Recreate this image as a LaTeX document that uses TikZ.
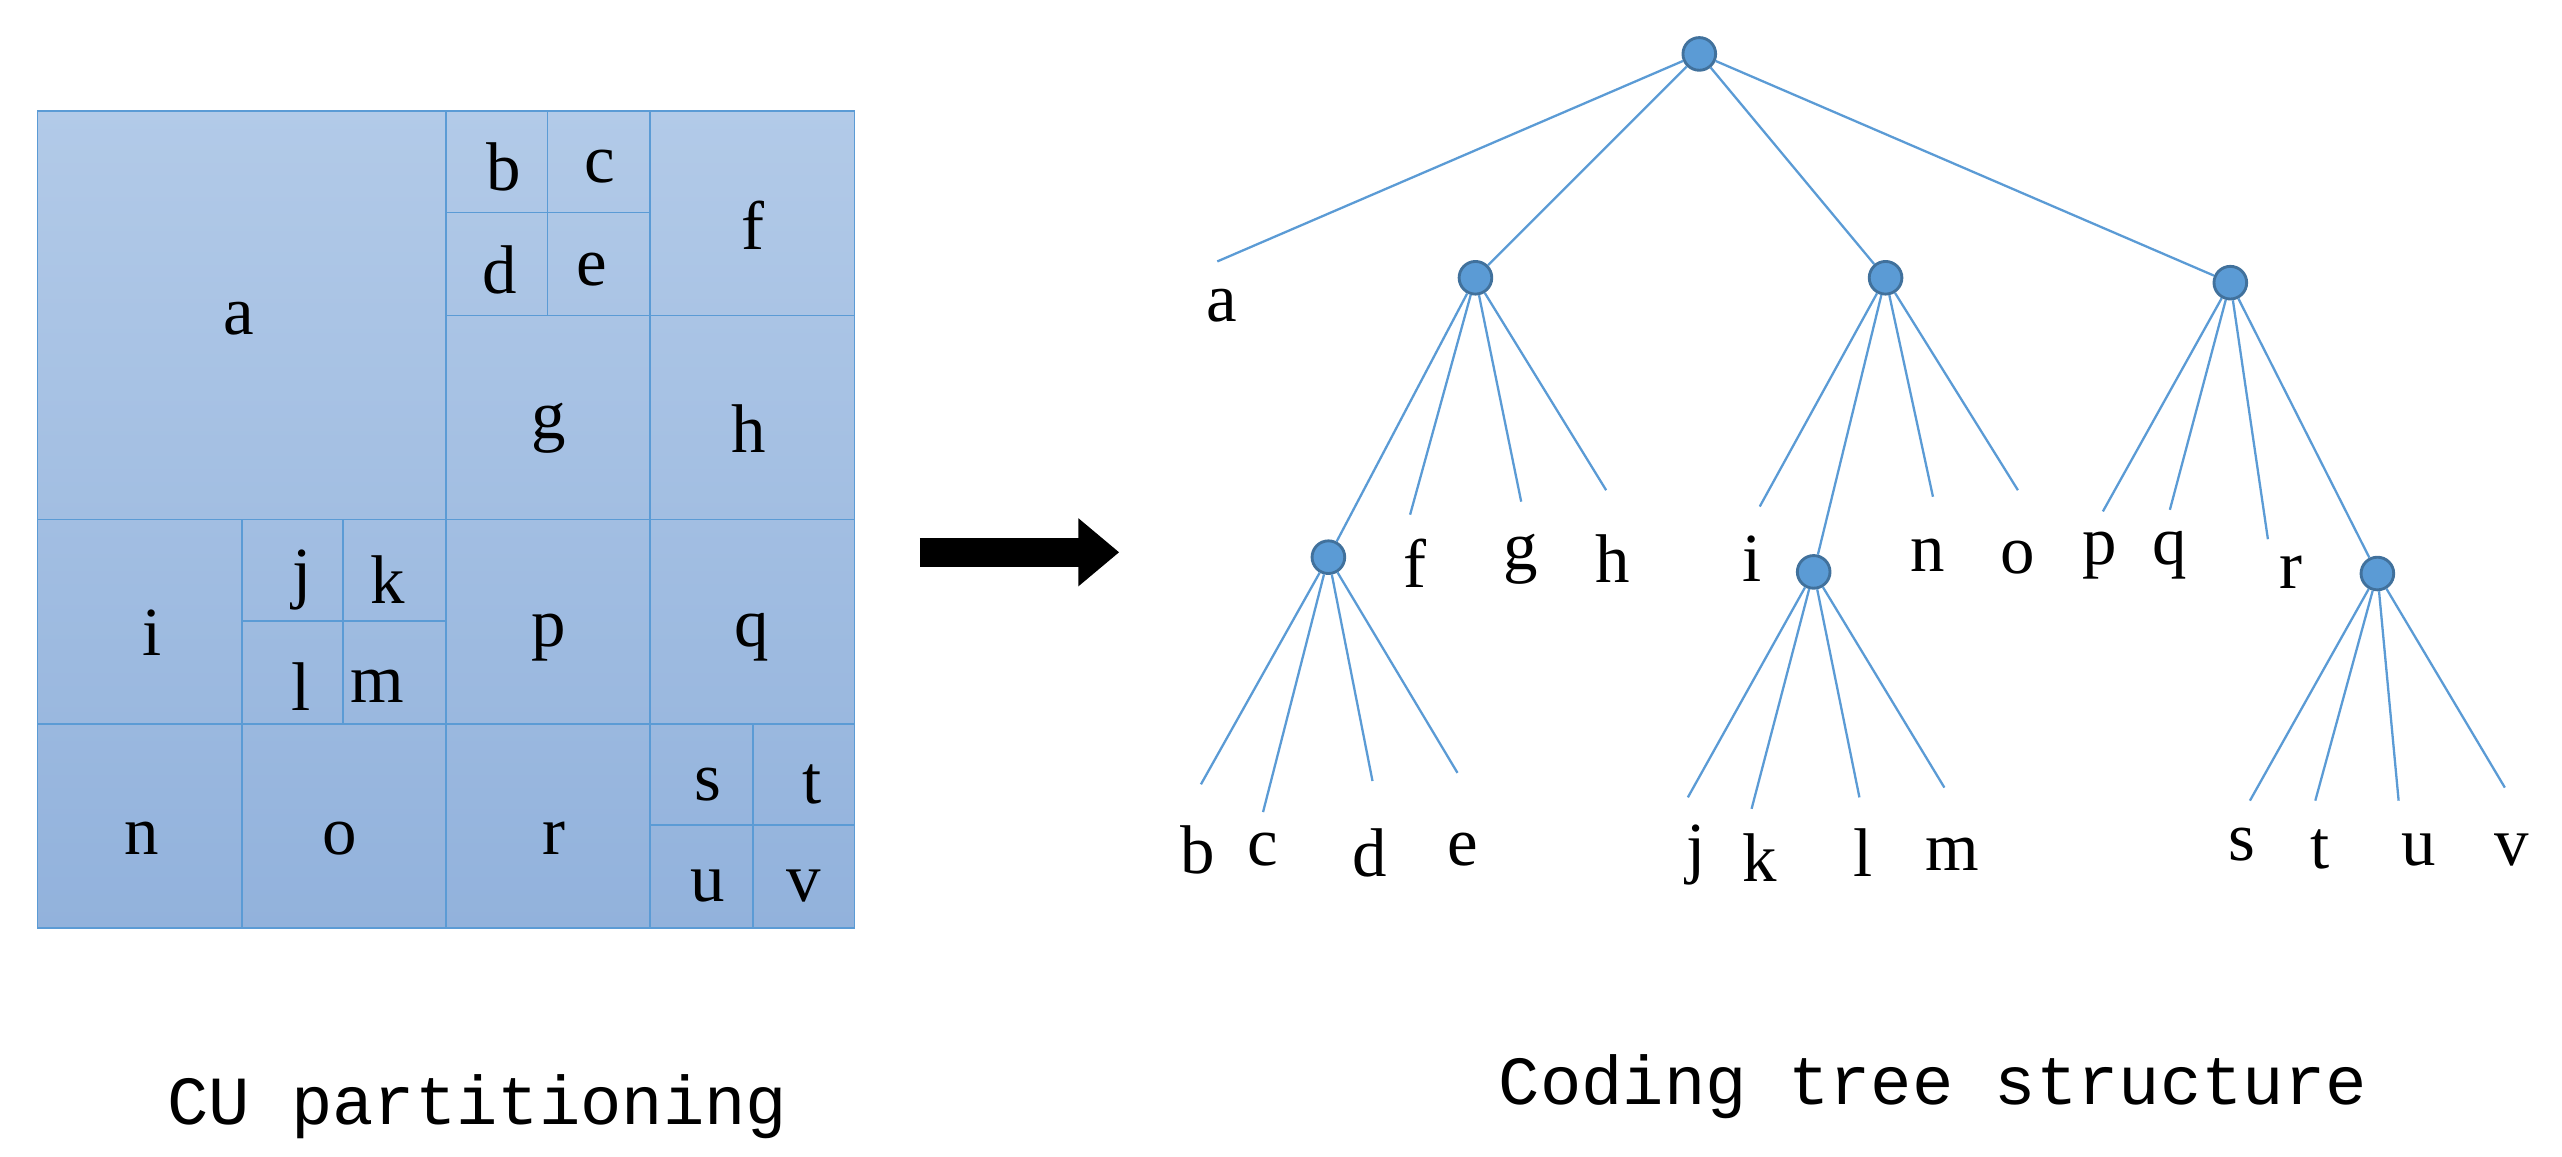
\documentclass[tikz,border=0pt]{standalone}
\usepackage{fontspec}
\setmainfont{Liberation Serif}
\newfontfamily\capfont{Liberation Mono}
\usetikzlibrary{arrows.meta, positioning}
\definecolor{cublue}{HTML}{5B9BD5}
\definecolor{cuedge}{HTML}{41719C}
\definecolor{cutop}{HTML}{B2CAE8}
\definecolor{cubot}{HTML}{92B2DC}

\begin{document}
\begin{tikzpicture}[x=0.02cm, y=-0.02cm, font=\fontsize{24}{28}\selectfont]
  \tikzset{
    blk/.style={
      draw=cublue,
      line width=0.6pt},
    lbl/.style={
      text centered,
      inner sep=0pt},
    dot/.style={
      circle,
      fill=cublue,
      draw=cuedge,
      line width=1pt,
      minimum size=0.4cm,
      inner sep=0pt},
    br/.style={
      draw=cublue,
      line width=0.8pt}}

  \useasboundingbox (0,0) rectangle (1568,708);

  % CU partitioning
  \shade[top color=cutop, bottom color=cubot] (23,68) rectangle (523,568);
  \draw[blk] (23,68) rectangle (523,568);
  \draw[blk] (273,68) -- (273,568);
  \draw[blk] (23,318) -- (523,318);
  \draw[blk] (398,68) -- (398,568);
  \draw[blk] (273,193) -- (523,193);
  \draw[blk] (148,318) -- (148,568);
  \draw[blk] (23,443) -- (523,443);
  \draw[blk] (335,68) -- (335,193);
  \draw[blk] (273,130) -- (398,130);
  \draw[blk] (210,318) -- (210,443);
  \draw[blk] (148,380) -- (273,380);
  \draw[blk] (461,443) -- (461,568);
  \draw[blk] (398,505) -- (523,505);

  \node[lbl] (ca) at (146,195) {a};
  \node[lbl] (cb) at (308,102) {b};
  \node[lbl] (cc) at (367,102) {c};
  \node[lbl] (cd) at (306,165) {d};
  \node[lbl] (ce) at (362,165) {e};
  \node[lbl] (cf) at (461,138) {f};
  \node[lbl] (cg) at (336,262) {g};
  \node[lbl] (ch) at (458,262) {h};
  \node[lbl] (ci) at (93,387) {i};
  \node[lbl] (cj) at (185,355) {j};
  \node[lbl] (ck) at (237,355) {k};
  \node[lbl] (cl) at (184,420) {l};
  \node[lbl] (cm) at (231,420) {m};
  \node[lbl] (cp) at (336,390) {p};
  \node[lbl] (cq) at (460,390) {q};
  \node[lbl] (cn) at (87,513) {n};
  \node[lbl] (co) at (208,513) {o};
  \node[lbl] (cr) at (339,513) {r};
  \node[lbl] (cs) at (433,480) {s};
  \node[lbl] (ct) at (497,480) {t};
  \node[lbl] (cu) at (433,542) {u};
  \node[lbl] (cv) at (492,542) {v};

  % arrow
  \coordinate (as) at (563,338);
  \coordinate (ae) at (685,338);
  \draw[line width=0.36cm, -{Triangle[length=0.5cm, width=0.8cm]}] (as) -- (ae);

  % coding tree
  \node[dot] (root) at (1040,33) {};
  \node[dot] (n1) at (903,170) {};
  \node[dot] (n2) at (1154,170) {};
  \node[dot] (n3) at (1365,173) {};
  \node[dot] (n1a) at (813,341) {};
  \node[dot] (n2a) at (1110,350) {};
  \node[dot] (n3a) at (1455,351) {};

  \coordinate (ea) at (745,160);
  \coordinate (ef) at (863,315);
  \coordinate (eg) at (931,307);
  \coordinate (eh) at (983,300);
  \coordinate (eb) at (735,480);
  \coordinate (ec) at (773,497);
  \coordinate (ed) at (840,478);
  \coordinate (ee) at (892,473);
  \coordinate (ei) at (1077,310);
  \coordinate (en) at (1183,304);
  \coordinate (eo) at (1235,300);
  \coordinate (ej) at (1033,488);
  \coordinate (ek) at (1072,495);
  \coordinate (el) at (1138,488);
  \coordinate (em) at (1190,482);
  \coordinate (ep) at (1287,313);
  \coordinate (eq) at (1328,312);
  \coordinate (er) at (1388,330);
  \coordinate (es) at (1377,490);
  \coordinate (et) at (1417,490);
  \coordinate (eu) at (1468,490);
  \coordinate (ev) at (1533,482);

  \foreach \c in {ea, n1, n2, n3} \draw[br] (root) -- (\c);
  \foreach \c in {n1a, ef, eg, eh} \draw[br] (n1) -- (\c);
  \foreach \c in {ei, n2a, en, eo} \draw[br] (n2) -- (\c);
  \foreach \c in {ep, eq, er, n3a} \draw[br] (n3) -- (\c);
  \foreach \c in {eb, ec, ed, ee} \draw[br] (n1a) -- (\c);
  \foreach \c in {ej, ek, el, em} \draw[br] (n2a) -- (\c);
  \foreach \c in {es, et, eu, ev} \draw[br] (n3a) -- (\c);

  \node[lbl] (ta) at (748,187) {a};
  \node[lbl] (tf) at (866,345) {f};
  \node[lbl] (tg) at (931,342) {g};
  \node[lbl] (th) at (987,342) {h};
  \node[lbl] (tb) at (733,520) {b};
  \node[lbl] (tc) at (773,520) {c};
  \node[lbl] (td) at (838,522) {d};
  \node[lbl] (te) at (895,520) {e};
  \node[lbl] (ti) at (1072,342) {i};
  \node[lbl] (tn) at (1180,340) {n};
  \node[lbl] (to) at (1235,341) {o};
  \node[lbl] (tj) at (1038,523) {j};
  \node[lbl] (tk) at (1077,525) {k};
  \node[lbl] (tl) at (1140,522) {l};
  \node[lbl] (tm) at (1195,523) {m};
  \node[lbl] (tp) at (1285,340) {p};
  \node[lbl] (tq) at (1328,340) {q};
  \node[lbl] (tr) at (1402,350) {r};
  \node[lbl] (ts) at (1372,517) {s};
  \node[lbl] (tt) at (1420,520) {t};
  \node[lbl] (tu) at (1480,520) {u};
  \node[lbl] (tv) at (1537,520) {v};

  % captions
  \node[lbl, font=\capfont\fontsize{24}{28}\selectfont] (cap1) at (292,677) {CU partitioning};
  \node[lbl, font=\capfont\fontsize{24}{28}\selectfont] (cap2) at (1183,665) {Coding tree structure};
\end{tikzpicture}
\end{document}
